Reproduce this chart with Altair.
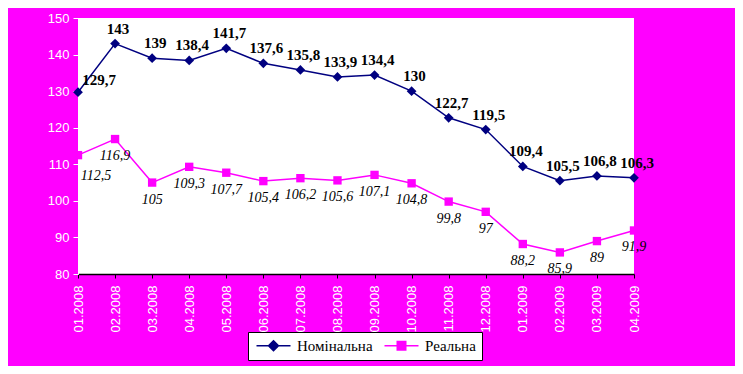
import altair as alt
import pandas as pd

months = ["01.2008", "02.2008", "03.2008", "04.2008", "05.2008", "06.2008",
          "07.2008", "08.2008", "09.2008", "10.2008", "11.2008", "12.2008",
          "01.2009", "02.2009", "03.2009", "04.2009"]
nominal = [129.7, 143, 139, 138.4, 141.7, 137.6, 135.8, 133.9, 134.4, 130,
           122.7, 119.5, 109.4, 105.5, 106.8, 106.3]
real = [112.5, 116.9, 105, 109.3, 107.7, 105.4, 106.2, 105.6, 107.1, 104.8,
        99.8, 97, 88.2, 85.9, 89, 91.9]
series_names = ["Номінальна", "Реальна"]
colors = ["#000080", "#FF00FF"]
y_ticks = [80, 90, 100, 110, 120, 130, 140, 150]

rows = []
for i, m in enumerate(months):
    rows.append(dict(month=m, idx=i, series=series_names[0], value=nominal[i]))
    rows.append(dict(month=m, idx=i, series=series_names[1], value=real[i]))
df = pd.DataFrame(rows)
df["label"] = df["value"].map(lambda v: f"{v:g}".replace(".", ","))

serif = "Liberation Serif, DejaVu Serif, serif"

cscale = alt.Scale(domain=series_names, range=colors)
x = alt.X("month:N", sort=months, scale=alt.Scale(padding=0),
          axis=alt.Axis(title=None, labelAngle=270, labelColor="white",
                        labelFont="Liberation Sans", labelFontSize=13,
                        labelPadding=7, domainColor="black", domainWidth=1.5,
                        tickColor="black", tickSize=4, grid=False))
y = alt.Y("value:Q", scale=alt.Scale(domain=[80, 150], nice=False, zero=False),
          axis=alt.Axis(title=None, values=y_ticks, labelColor="white",
                        labelFont="Liberation Sans", labelFontSize=13,
                        labelPadding=4, domainColor="white", tickColor="white",
                        tickSize=5, grid=False))

base = alt.Chart(df)

lines = base.mark_line(strokeWidth=1.5).encode(
    x=x, y=y, color=alt.Color("series:N", scale=cscale, legend=None))

pts_nom = base.transform_filter(alt.datum.series == series_names[0]).mark_point(
    shape="diamond", filled=True, size=95, opacity=1).encode(
    x=x, y=y, color=alt.Color("series:N", scale=cscale, legend=None))
pts_real = base.transform_filter(alt.datum.series == series_names[1]).mark_point(
    shape="square", filled=True, size=70, opacity=1).encode(
    x=x, y=y, color=alt.Color("series:N", scale=cscale, legend=None))

leg = alt.Legend(title=None, orient="none", legendX=170, legendY=314,
                 direction="horizontal", fillColor="white", strokeColor="black",
                 padding=6, columnPadding=8, symbolSize=100, symbolStrokeWidth=1.5,
                 symbolOpacity=1, symbolOffset=12, labelOffset=16,
                 labelFont=serif, labelFontSize=15, labelColor="black")
paths = ["M-3.4,0L3.4,0M0,-1L1,0L0,1L-1,0Z",
         "M-3.4,0L3.4,0M-0.85,-0.85L0.85,-0.85L0.85,0.85L-0.85,0.85Z"]
legend_layer = base.mark_point(filled=True, opacity=0).encode(
    x=x, y=y,
    fill=alt.Fill("series:N", scale=cscale, legend=leg),
    stroke=alt.Stroke("series:N", scale=cscale, legend=leg),
    shape=alt.Shape("series:N", scale=alt.Scale(domain=series_names, range=paths),
                    legend=leg))

nom_first = base.transform_filter(
    (alt.datum.series == series_names[0]) & (alt.datum.idx == 0))
nom_rest = base.transform_filter(
    (alt.datum.series == series_names[0]) & (alt.datum.idx > 0))
real_first = base.transform_filter(
    (alt.datum.series == series_names[1]) & (alt.datum.idx == 0))
real_rest = base.transform_filter(
    (alt.datum.series == series_names[1]) & (alt.datum.idx > 0))

nom_style = dict(font="Liberation Serif", fontSize=15, fontWeight="bold",
                 color="black", baseline="middle")
real_style = dict(font="Liberation Serif", fontSize=14, fontStyle="italic",
                  color="black", baseline="middle")

t1 = nom_rest.mark_text(dx=3, dy=-15, **nom_style).encode(x=x, y=y, text="label:N")
t2 = nom_first.mark_text(dx=21, dy=-12, **nom_style).encode(x=x, y=y, text="label:N")
t3 = real_rest.mark_text(dx=0, dy=17, **real_style).encode(x=x, y=y, text="label:N")
t4 = real_first.mark_text(dx=18, dy=21, **real_style).encode(x=x, y=y, text="label:N")

chart = alt.layer(legend_layer, lines, pts_nom, pts_real, t1, t2, t3, t4).properties(
    width=556, height=256,
    autosize=alt.AutoSizeParams(type="none"),
    padding={"left": 70, "top": 10, "right": 101, "bottom": 92},
    background="#FF00FF",
).configure_view(fill="white", strokeWidth=0).configure_legend(
    labelFont=serif, labelFontSize=15, labelColor="black")

chart.save("out.html", embed_options={"renderer": "svg", "actions": False})
